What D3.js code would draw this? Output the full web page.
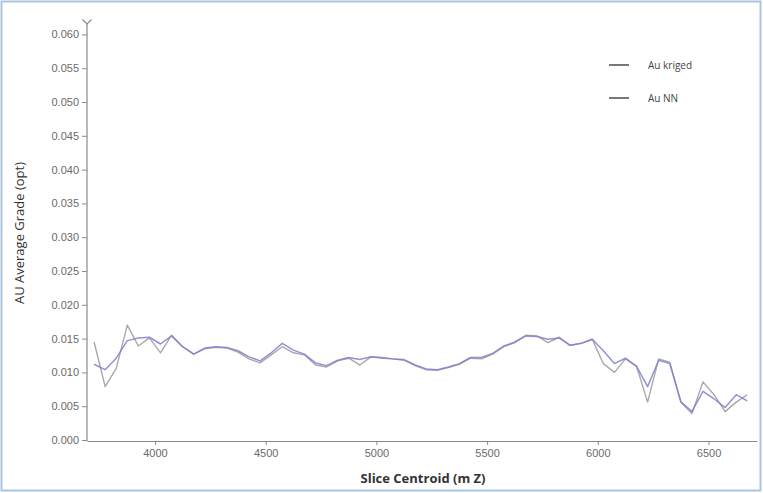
<!DOCTYPE html>
<html><head><meta charset="utf-8">
<script src="https://cdn.jsdelivr.net/npm/d3@7"></script>
<style>
html,body{margin:0;padding:0;background:#fff;}
svg{display:block;font-family:"Open Sans","Noto Sans",sans-serif;}
</style></head>
<body>
<svg id="chart" width="763" height="493"></svg>
<script>
// Slice centroids (m Z)
const slices = d3.range(60).map(i => 3725 + 50 * i);
const auKriged = [
 0.0112,0.0104,0.0121,0.0147,0.0151,0.0152,0.0142,0.0154,0.0138,0.0127,
 0.0136,0.0138,0.0137,0.0132,0.0123,0.0117,0.0129,0.0143,0.0133,0.0127,
 0.0114,0.0110,0.0118,0.0122,0.0119,0.0123,0.0122,0.0120,0.0119,0.0111,
 0.0105,0.0104,0.0108,0.0113,0.0122,0.0122,0.0128,0.0139,0.0145,0.0154,
 0.0153,0.0149,0.0151,0.0140,0.0143,0.0149,0.0132,0.0113,0.0121,0.0109,
 0.0079,0.0118,0.0113,0.0057,0.0042,0.0072,0.0061,0.0048,0.0067,0.0058
];
const auNN = [
 0.0145,0.0079,0.0106,0.0170,0.0139,0.0151,0.0129,0.0155,0.0138,0.0127,
 0.0135,0.0137,0.0136,0.0130,0.0120,0.0114,0.0126,0.0138,0.0129,0.0126,
 0.0111,0.0108,0.0117,0.0121,0.0111,0.0123,0.0121,0.0120,0.0118,0.0110,
 0.0104,0.0103,0.0107,0.0112,0.0121,0.0120,0.0127,0.0138,0.0144,0.0155,
 0.0154,0.0144,0.0152,0.0140,0.0143,0.0149,0.0113,0.0100,0.0120,0.0109,
 0.0056,0.0120,0.0115,0.0056,0.0039,0.0086,0.0067,0.0042,0.0056,0.0067
];
const yTicks = d3.range(0, 0.0601, 0.005);
const xTicks = [4000, 4500, 5000, 5500, 6000, 6500];
const seriesNames = ["Au kriged", "Au NN"];

const svg = d3.select("#chart");
// outer frame
svg.append("rect").attr("x", 1.5).attr("y", 1.5).attr("width", 759).attr("height", 489)
  .attr("fill", "#fff").attr("stroke", "#a9c5e2").attr("stroke-width", 2);

const x = d3.scaleLinear().domain([3693, 6719]).range([87, 757]);
const y = d3.scaleLinear().domain([0, 0.060]).range([440, 34.4]);

// y axis
const yAxis = svg.append("g").attr("transform", "translate(87,0)")
  .call(d3.axisLeft(y).tickValues(yTicks).tickFormat(d3.format(".3f")).tickSize(5).tickSizeOuter(0));
yAxis.select(".domain").remove();
yAxis.selectAll("line").attr("stroke", "#8a8a8a");
yAxis.selectAll("text").attr("fill", "#6a6a6a").style("font-size", "11px").attr("x", -8);
svg.append("line").attr("x1", 87).attr("x2", 87).attr("y1", 23).attr("y2", 441)
  .attr("stroke", "#8a8a8a").attr("stroke-width", 1.2);
svg.append("path").attr("d", "M82.5,19.5L87,24L91.5,19.5").attr("fill", "none")
  .attr("stroke", "#8a8a8a").attr("stroke-width", 1.2);

// x axis
const xAxis = svg.append("g").attr("transform", "translate(0,441)")
  .call(d3.axisBottom(x).tickValues(xTicks).tickFormat(d3.format("d")).tickSize(4).tickSizeOuter(0));
xAxis.select(".domain").attr("stroke", "#8a8a8a").attr("stroke-width", 1.2);
xAxis.selectAll("line").attr("stroke", "#8a8a8a");
xAxis.selectAll("text").attr("fill", "#6a6a6a").style("font-size", "11px").attr("y", 8);

// titles
svg.append("text").attr("x", 423).attr("y", 483).attr("text-anchor", "middle")
  .style("font-size", "13px").style("font-weight", "bold").attr("fill", "#333")
  .text("Slice Centroid (m Z)");
svg.append("text").attr("transform", "translate(24,233) rotate(-90)").attr("text-anchor", "middle")
  .style("font-size", "13px").attr("fill", "#333").text("AU Average Grade (opt)");

// lines
const line = vals => d3.line().x((d, i) => x(slices[i])).y(d => y(d))(vals);
svg.append("path").attr("d", line(auNN)).attr("fill", "none")
  .attr("stroke", "#a9a9a9").attr("stroke-width", 1.4).attr("stroke-linejoin", "round");
svg.append("path").attr("d", line(auKriged)).attr("fill", "none")
  .attr("stroke", "#7f7fcf").attr("stroke-opacity", 0.85).attr("stroke-width", 1.5).attr("stroke-linejoin", "round");

// legend
const leg = svg.append("g");
seriesNames.forEach((n, i) => {
  const ly = 65 + i * 33;
  leg.append("line").attr("x1", 609).attr("x2", 629).attr("y1", ly).attr("y2", ly)
    .attr("stroke", "#555").attr("stroke-width", 1.6);
  leg.append("text").attr("x", 648).attr("y", ly + 3.5).style("font-size", "10px")
    .attr("fill", "#444").text(n);
});
</script>
</body></html>
